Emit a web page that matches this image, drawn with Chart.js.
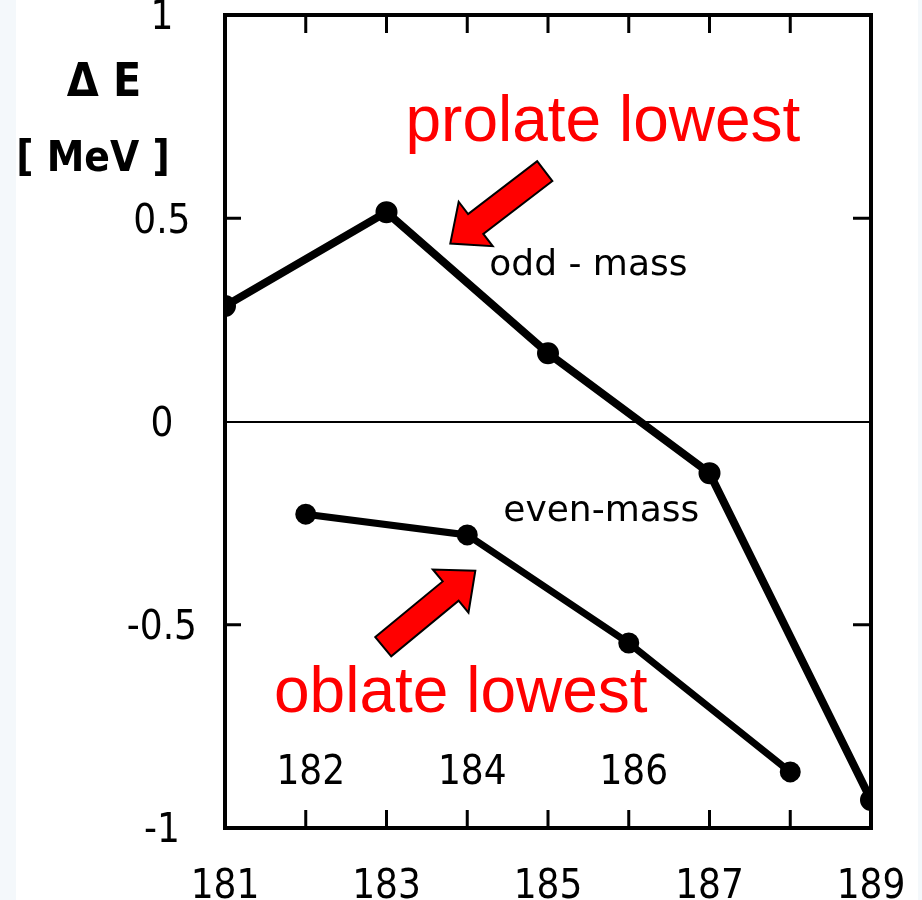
<!DOCTYPE html>
<html>
<head>
<meta charset="utf-8">
<script src="https://cdn.jsdelivr.net/npm/chart.js@4"></script>
<style>
  html, body { margin: 0; padding: 0; background: #f4f8fb; }
  #wrap { width: 922px; height: 900px; position: relative; }
</style>
</head>
<body>
<div id="wrap"><canvas id="deltaE"></canvas></div>
<script>
// mass numbers and energy differences (MeV)
const oddMass = [181, 183, 185, 187, 189];
const oddDeltaE = [0.284, 0.515, 0.168, -0.127, -0.931];
const evenMass = [182, 184, 186, 188];
const evenDeltaE = [-0.228, -0.279, -0.545, -0.862];

// tick labels
const bottomLabels = [181, 183, 185, 187, 189];
const insideLabels = [182, 184, 186];
const innerTicksX = [182, 183, 184, 185, 186, 187, 188];
const innerTicksY = [0.5, -0.5];

// annotations, in data units
const notes = [
    { text: 'prolate lowest', x: 185.68, y: 0.690, red: true },
    { text: 'oblate lowest', x: 183.92, y: -0.714, red: true },
    { text: 'odd - mass', x: 185.50, y: 0.384 },
    { text: 'even-mass', x: 185.66, y: -0.222 }
];
const arrows = [
    { from: [184.96, 0.616], to: [183.79, 0.438] },
    { from: [182.96, -0.554], to: [184.10, -0.367] }
];

const tickFont = "'Liberation Sans Narrow', 'DejaVu Sans Condensed', 'Liberation Sans', sans-serif";

const framePlugin = {
    id: 'frame',
    beforeDraw(chart) {
        const ctx = chart.ctx;
        ctx.save();
        ctx.fillStyle = '#f4f8fb';
        ctx.fillRect(0, 0, chart.width, chart.height);
        ctx.fillStyle = '#ffffff';
        ctx.fillRect(16, 0, 902, chart.height);
        ctx.restore();
    },
    afterDatasetsDraw(chart) {
        const ctx = chart.ctx;
        const a = chart.chartArea;
        const xs = chart.scales.x, ys = chart.scales.y;
        ctx.save();
        // box
        ctx.strokeStyle = '#000';
        ctx.lineWidth = 4;
        ctx.strokeRect(a.left, a.top, a.right - a.left, a.bottom - a.top);
        // inward ticks
        ctx.lineWidth = 3;
        ctx.beginPath();
        innerTicksX.forEach(v => {
            const px = xs.getPixelForValue(v);
            ctx.moveTo(px, a.bottom); ctx.lineTo(px, a.bottom - 18);
            ctx.moveTo(px, a.top); ctx.lineTo(px, a.top + 18);
        });
        innerTicksY.forEach(v => {
            const py = ys.getPixelForValue(v);
            ctx.moveTo(a.left, py); ctx.lineTo(a.left + 16, py);
            ctx.moveTo(a.right, py); ctx.lineTo(a.right - 18, py);
        });
        ctx.stroke();

        // even labels inside the box
        ctx.fillStyle = '#000';
        ctx.font = '40px ' + tickFont;
        ctx.textAlign = 'center';
        ctx.textBaseline = 'middle';
        insideLabels.forEach(v => {
            ctx.fillText(String(v), xs.getPixelForValue(v) + 5, a.bottom - 54);
        });

        // arrows
        arrows.forEach(ar => {
            const x0 = xs.getPixelForValue(ar.from[0]), y0 = ys.getPixelForValue(ar.from[1]);
            const x1 = xs.getPixelForValue(ar.to[0]), y1 = ys.getPixelForValue(ar.to[1]);
            const L = Math.hypot(x1 - x0, y1 - y0);
            const ang = Math.atan2(y1 - y0, x1 - x0);
            const sw = 12.5, hw = 28, hl = 32;
            ctx.save();
            ctx.translate(x1, y1);
            ctx.rotate(ang);
            ctx.beginPath();
            ctx.moveTo(-L, -sw);
            ctx.lineTo(-hl, -sw);
            ctx.lineTo(-hl, -hw);
            ctx.lineTo(0, 0);
            ctx.lineTo(-hl, hw);
            ctx.lineTo(-hl, sw);
            ctx.lineTo(-L, sw);
            ctx.closePath();
            ctx.fillStyle = '#ff0000';
            ctx.fill();
            ctx.lineWidth = 2;
            ctx.strokeStyle = '#000';
            ctx.stroke();
            ctx.restore();
        });

        // texts
        notes.forEach(n => {
            const px = xs.getPixelForValue(n.x), py = ys.getPixelForValue(n.y);
            if (n.red) {
                ctx.font = "64px 'Liberation Sans', Arial, sans-serif";
                ctx.fillStyle = '#ff0000';
                ctx.textBaseline = 'alphabetic';
            } else {
                ctx.font = "36px 'DejaVu Sans', sans-serif";
                ctx.fillStyle = '#000';
                ctx.textBaseline = 'middle';
            }
            ctx.textAlign = 'center';
            ctx.fillText(n.text, px, py);
        });

        // axis title
        ctx.fillStyle = '#000';
        ctx.textAlign = 'center';
        ctx.textBaseline = 'middle';
        ctx.font = "bold 46px " + tickFont;
        ctx.fillText('\u0394 E', 104, 84);
        ctx.font = "bold 42px " + tickFont;
        ctx.fillText('[ MeV ]', 93, 160);
        ctx.restore();
    }
};

const ctx = document.getElementById('deltaE').getContext('2d');
const chart = new Chart(ctx, {
    type: 'line',
    data: {
        datasets: [
            {
                label: 'odd-mass',
                data: oddMass.map((m, i) => ({ x: m, y: oddDeltaE[i] })),
                borderColor: '#000',
                backgroundColor: '#000',
                borderWidth: 8,
                pointRadius: 7,
                tension: 0
            },
            {
                label: 'even-mass',
                data: evenMass.map((m, i) => ({ x: m, y: evenDeltaE[i] })),
                borderColor: '#000',
                backgroundColor: '#000',
                borderWidth: 7,
                pointRadius: 7,
                tension: 0
            }
        ]
    },
    options: {
        responsive: true,
        maintainAspectRatio: false,
        animation: false,
        layout: { padding: { top: 15, right: 51, left: 0, bottom: 0 } },
        plugins: { legend: { display: false }, tooltip: { enabled: false } },
        scales: {
            x: {
                type: 'linear',
                min: 181,
                max: 189,
                afterBuildTicks: s => { s.ticks = bottomLabels.map(v => ({ value: v })); },
                afterFit: s => { s.height = 72; s.paddingLeft = 0; s.paddingRight = 0; },
                grid: { display: false },
                border: { display: false },
                ticks: {
                    color: '#000',
                    font: { family: tickFont, size: 40 },
                    padding: 28,
                    maxRotation: 0,
                    callback: v => String(v)
                }
            },
            y: {
                min: -1,
                max: 1,
                afterFit: s => { s.width = 225; s.paddingTop = 0; s.paddingBottom = 0; },
                grid: {
                    drawTicks: false,
                    color: c => (c.tick && c.tick.value === 0 ? '#000' : 'rgba(0,0,0,0)'),
                    lineWidth: 2
                },
                border: { display: false },
                ticks: {
                    stepSize: 0.5,
                    color: '#000',
                    crossAlign: 'center',
                    padding: 28,
                    labelOffset: 4,
                    font: { family: tickFont, size: 40 },
                    callback: v => String(v)
                }
            }
        }
    },
    plugins: [framePlugin]
});
</script>
</body>
</html>
